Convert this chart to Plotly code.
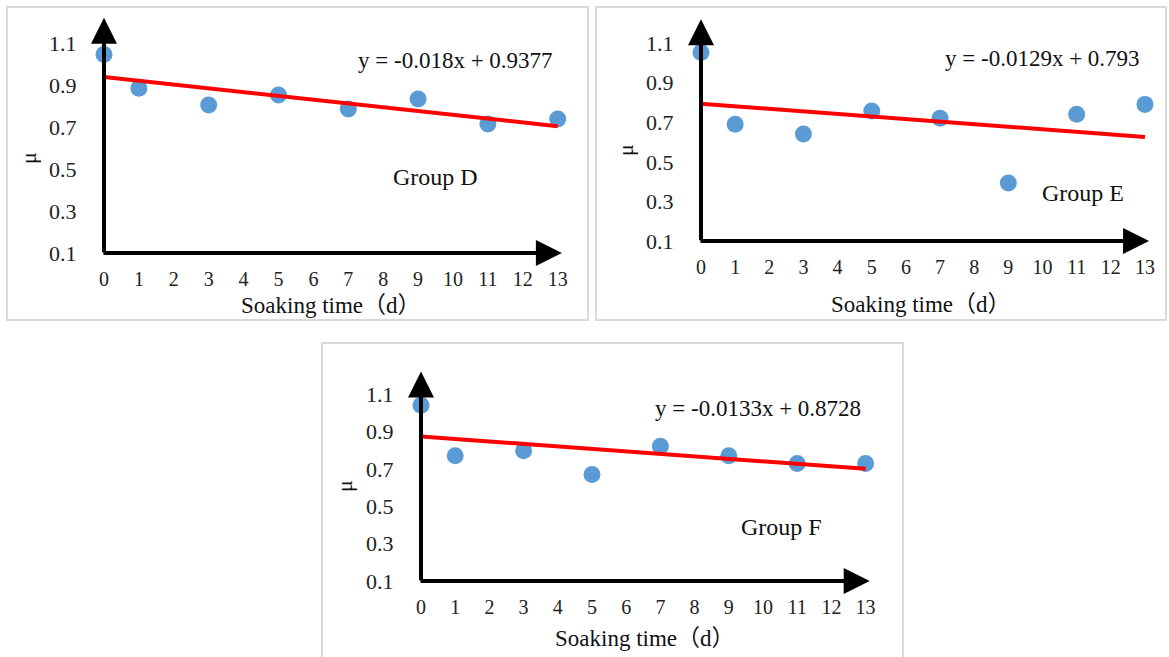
import plotly.graph_objects as go

W, H = 1169, 657

# ---- data ----
days = [0, 1, 3, 5, 7, 9, 11, 13]
mu_D = [1.045, 0.885, 0.805, 0.852, 0.786, 0.833, 0.714, 0.738]
mu_E = [1.052, 0.690, 0.640, 0.757, 0.720, 0.393, 0.740, 0.790]
mu_F = [1.040, 0.770, 0.797, 0.670, 0.820, 0.770, 0.728, 0.728]
slopes = [-0.018, -0.0129, -0.0133]
intercepts = [0.9377, 0.793, 0.8728]
equations = ["y = -0.018x + 0.9377", "y = -0.0129x + 0.793", "y = -0.0133x + 0.8728"]
groups = ["Group D", "Group E", "Group F"]
x_ticks = list(range(0, 14))
y_ticks = [0.1, 0.3, 0.5, 0.7, 0.9, 1.1]
y_tick_text = ["0.1", "0.3", "0.5", "0.7", "0.9", "1.1"]
x_title = "Soaking time（d）"
y_title = "μ"

FONT = "Liberation Serif, Times New Roman, Noto Sans CJK SC, serif"
XMAX, YMIN, YMAX = 13.2, 0.1, 1.22

# panel geometry in pixels: (x of y-axis, px per x unit, y of x-axis, px per y unit)
panels = [
    dict(x0=104, sx=34.9, y0=253, sy=210, box=(7, 7, 588, 320),
         eq=(455, 60), grp=(435, 177), mu=(28, 158), xt=(331, 305)),
    dict(x0=701, sx=34.15, y0=241, sy=198, box=(596, 7, 1166, 320),
         eq=(1042, 58), grp=(1083, 193), mu=(625, 150), xt=(921, 304)),
    dict(x0=421, sx=34.2, y0=581, sy=187, box=(322, 343, 903, 662),
         eq=(758, 408), grp=(781, 527), mu=(344, 486), xt=(645, 638)),
]
series = [mu_D, mu_E, mu_F]

def px(x):
    return x / W

def py(y):
    return 1 - y / H

fig = go.Figure()
shapes = []
annotations = []

for i, p in enumerate(panels):
    n = "" if i == 0 else str(i + 1)
    xa, ya = "x" + n, "y" + n
    xl = p["x0"]
    xr = p["x0"] + XMAX * p["sx"]
    yb = p["y0"]
    yt = p["y0"] - (YMAX - YMIN) * p["sy"]

    fig.add_trace(go.Scatter(
        x=days, y=series[i], mode="markers", xaxis=xa, yaxis=ya,
        marker=dict(size=17, color="#5b9bd5"), cliponaxis=False, showlegend=False))
    xs = [days[0], days[-1]]
    fig.add_trace(go.Scatter(
        x=xs, y=[slopes[i] * v + intercepts[i] for v in xs], mode="lines",
        xaxis=xa, yaxis=ya, line=dict(color="#ff0000", width=4),
        cliponaxis=False, showlegend=False))

    axkey = "xaxis" + n
    aykey = "yaxis" + n
    fig.layout[axkey] = dict(
        domain=[px(xl), px(xr)], range=[0, XMAX], anchor=ya, automargin=False,
        tickmode="array", tickvals=x_ticks, ticktext=[str(t) for t in x_ticks],
        showgrid=False, zeroline=False, showline=False,
        ticks="outside", ticklen=8, tickcolor="rgba(0,0,0,0)",
        tickfont=dict(family=FONT, size=20, color="#222"))
    fig.layout[aykey] = dict(
        domain=[py(yb), py(yt)], range=[YMIN, YMAX], anchor=xa, automargin=False,
        tickmode="array", tickvals=y_ticks, ticktext=y_tick_text,
        showgrid=False, zeroline=False, showline=False,
        ticks="outside", ticklen=22, tickcolor="rgba(0,0,0,0)",
        tickfont=dict(family=FONT, size=22, color="#222"))

    # axis arrows
    annotations.append(dict(x=0, y=YMAX, ax=0, ay=YMIN - 0.004, xref=xa, yref=ya,
                            axref=xa, ayref=ya, text="", showarrow=True,
                            arrowhead=2, arrowsize=1.3, arrowwidth=4, arrowcolor="black",
                            standoff=0))
    annotations.append(dict(x=13.12, y=YMIN, ax=-0.06, ay=YMIN, xref=xa, yref=ya,
                            axref=xa, ayref=ya, text="", showarrow=True,
                            arrowhead=2, arrowsize=1.3, arrowwidth=4, arrowcolor="black",
                            standoff=0))

    bx0, by0, bx1, by1 = p["box"]
    shapes.append(dict(type="rect", xref="paper", yref="paper",
                       x0=px(bx0), x1=px(bx1), y0=py(by1), y1=py(by0),
                       line=dict(color="#d9d9d9", width=2)))

    common = dict(xref="paper", yref="paper", showarrow=False,
                  xanchor="center", yanchor="middle")
    annotations.append(dict(x=px(p["eq"][0]), y=py(p["eq"][1]), text=equations[i],
                            font=dict(family=FONT, size=23, color="#111"), **common))
    annotations.append(dict(x=px(p["grp"][0]), y=py(p["grp"][1]), text=groups[i],
                            font=dict(family=FONT, size=24, color="#111"), **common))
    annotations.append(dict(x=px(p["mu"][0]), y=py(p["mu"][1]), text=y_title,
                            textangle=-90,
                            font=dict(family=FONT, size=22, color="#111"), **common))
    annotations.append(dict(x=px(p["xt"][0]), y=py(p["xt"][1]), text=x_title,
                            font=dict(family=FONT, size=23, color="#111"), **common))

fig.update_layout(width=W, height=H,
                  margin=dict(l=0, r=0, t=0, b=0, pad=0, autoexpand=False),
                  paper_bgcolor="white", plot_bgcolor="white",
                  shapes=shapes, annotations=annotations, showlegend=False)

fig.write_html("out.html")
